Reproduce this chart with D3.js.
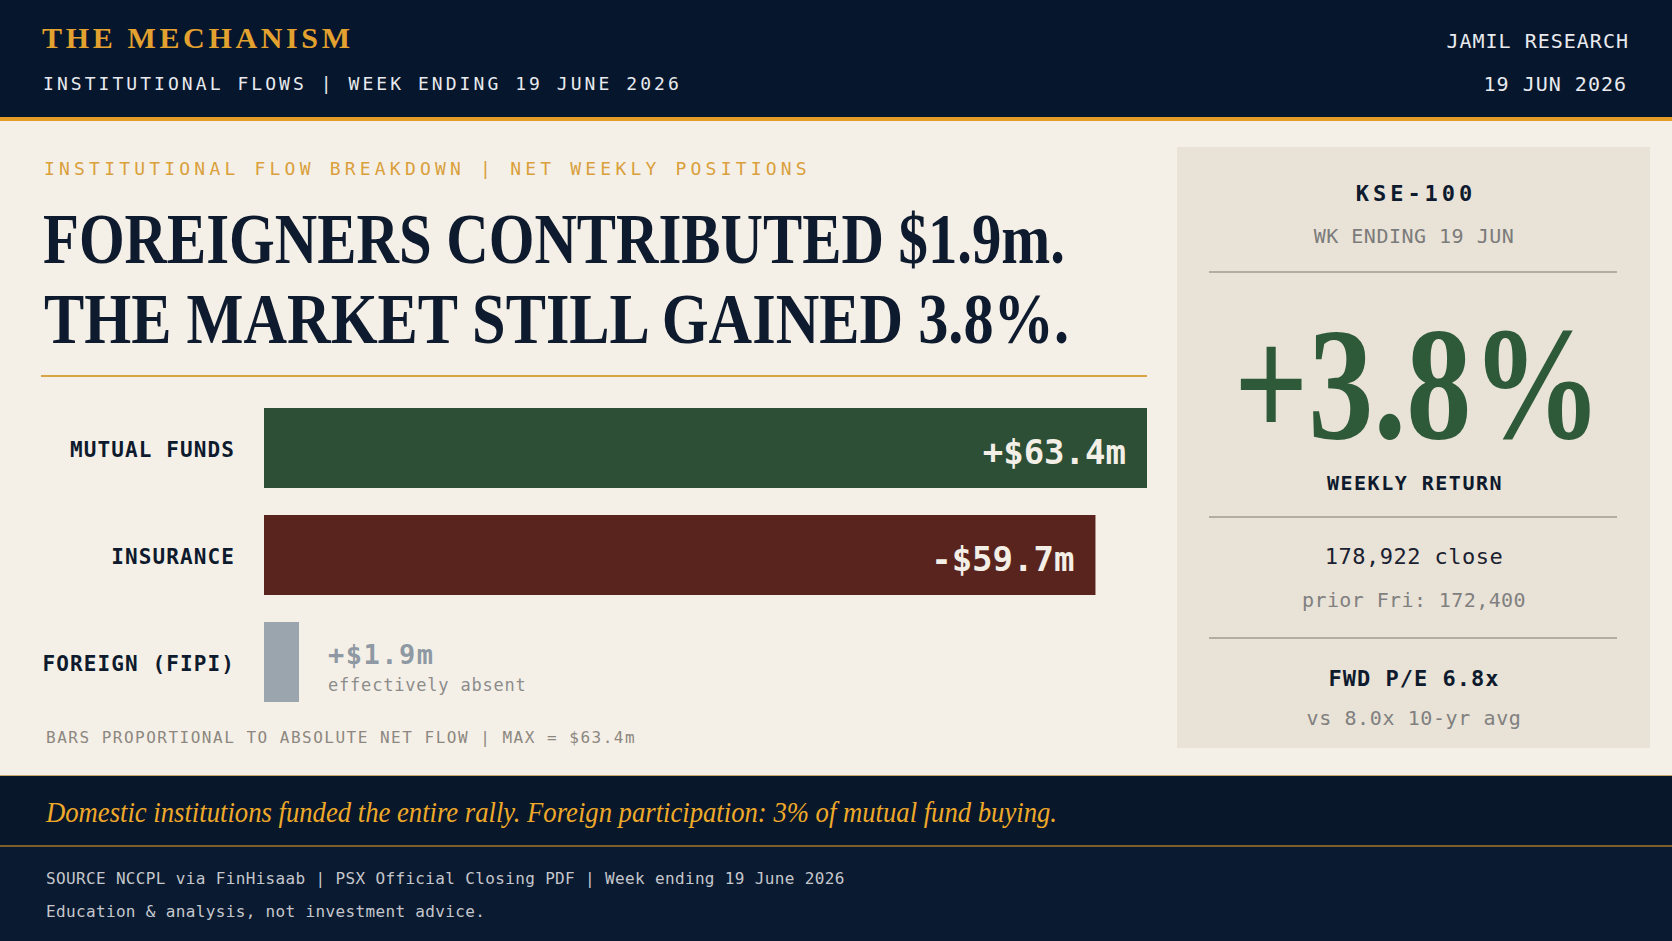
<!DOCTYPE html>
<html>
<head>
<meta charset="utf-8">
<script src="https://cdn.jsdelivr.net/npm/d3@7"></script>
<style>
html, body { margin: 0; padding: 0; background: #f5f0e7; overflow: hidden; }
svg { display: block; }
</style>
</head>
<body>
<script>
// flows, $m, week ending 19 June 2026
const categories = ['MUTUAL FUNDS', 'INSURANCE', 'FOREIGN (FIPI)'];
const netFlows = [63.4, -59.7, 1.9];
const flowNotes = ['', '', 'effectively absent'];

// KSE-100 side panel
const weeklyReturn = 3.8;
const kseClose = 178922;
const ksePriorClose = 172400;
const fwdPE = 6.8;
const avgPE = 8.0;

const width = 1672;
const height = 941;

const mono = '"DejaVu Sans Mono", monospace';
const serif = '"Liberation Serif", serif';
const navy = '#06162c';
const ink = '#0e1a2d';

const svg = d3.select('body')
    .append('svg')
    .attr('width', width)
    .attr('height', height);

function label(x, y, str, o) {
    const t = svg.append('text')
        .attr('x', x)
        .attr('y', y)
        .attr('font-family', o.family || mono)
        .attr('font-size', o.size)
        .attr('font-weight', o.weight || 'normal')
        .attr('font-style', o.style || 'normal')
        .attr('fill', o.fill)
        .attr('text-anchor', o.anchor || 'start')
        .style('letter-spacing', (o.spacing || 0) + 'px')
        .text(str);
    if (o.len) t.attr('textLength', o.len).attr('lengthAdjust', o.adjust || 'spacingAndGlyphs');
    return t;
}

// backgrounds
svg.append('rect').attr('width', width).attr('height', height).attr('fill', '#f5f0e7');
svg.append('rect').attr('width', width).attr('height', 117).attr('fill', navy);
svg.append('rect').attr('y', 117).attr('width', width).attr('height', 4).attr('fill', '#e39d26');

// header
label(42, 48, 'THE MECHANISM', { family: serif, size: 30, weight: 'bold', fill: '#e3a12f', len: 308, adjust: 'spacing' });
label(43, 90, 'INSTITUTIONAL FLOWS | WEEK ENDING 19 JUNE 2026', { size: 18, spacing: 3.05, fill: '#e8eaee' });
label(1629, 48, 'JAMIL RESEARCH', { size: 20, spacing: 1, fill: '#e8eaee', anchor: 'end' });
label(1627, 91, '19 JUN 2026', { size: 20, spacing: 1, fill: '#e8eaee', anchor: 'end' });

// kicker + headline
label(44, 175, 'INSTITUTIONAL FLOW BREAKDOWN | NET WEEKLY POSITIONS', { size: 18, spacing: 4.2, fill: '#d9a03c' });
const fipi = netFlows[categories.indexOf('FOREIGN (FIPI)')];
label(43, 263, `FOREIGNERS CONTRIBUTED $${fipi}m.`, { family: serif, size: 72, weight: 'bold', fill: ink, len: 1022 });
label(44, 343, `THE MARKET STILL GAINED ${weeklyReturn}%.`, { family: serif, size: 72, weight: 'bold', fill: ink, len: 1025 });
svg.append('line')
    .attr('x1', 41).attr('x2', 1147)
    .attr('y1', 376).attr('y2', 376)
    .attr('stroke', '#d9a443')
    .attr('stroke-width', 2);

// bars
const data = categories.map((c, i) => ({ category: c, value: netFlows[i], note: flowNotes[i] }));

const x = d3.scaleLinear()
    .domain([0, d3.max(data, d => Math.abs(d.value))])
    .range([264, 1147]);
const y = d3.scaleBand()
    .domain(categories)
    .range([408, 702])
    .paddingInner(0.2523)
    .paddingOuter(0);
const color = d3.scaleOrdinal()
    .domain(categories)
    .range(['#2d4f35', '#59241d', '#9ba5ae']);

const fmtFlow = v => (v >= 0 ? '+' : '-') + '$' + d3.format('.1f')(Math.abs(v)) + 'm';
const minBar = 35;
const barEnd = d => x(0) + Math.max(x(Math.abs(d.value)) - x(0), minBar);
const big = d => x(Math.abs(d.value)) - x(0) > 200;

const rows = svg.selectAll('g.row')
    .data(data)
    .enter()
    .append('g')
    .attr('class', 'row');

rows.append('rect')
    .attr('x', x(0))
    .attr('y', d => y(d.category))
    .attr('width', d => barEnd(d) - x(0))
    .attr('height', y.bandwidth())
    .attr('fill', d => color(d.category));

rows.append('text')
    .attr('x', 235)
    .attr('y', d => y(d.category) + y.bandwidth() / 2 + 9)
    .attr('text-anchor', 'end')
    .attr('font-family', mono)
    .attr('font-size', 21)
    .attr('font-weight', 'bold')
    .attr('fill', ink)
    .style('letter-spacing', '1.1px')
    .text(d => d.category);

rows.filter(big).append('text')
    .attr('x', d => barEnd(d) - 21)
    .attr('y', d => y(d.category) + y.bandwidth() / 2 + 16)
    .attr('text-anchor', 'end')
    .attr('font-family', mono)
    .attr('font-size', 34)
    .attr('font-weight', 'bold')
    .attr('fill', '#f3efe7')
    .text(d => fmtFlow(d.value));

const small = rows.filter(d => !big(d));
small.append('text')
    .attr('x', d => barEnd(d) + 29)
    .attr('y', d => y(d.category) + y.bandwidth() / 2 + 2)
    .attr('font-family', mono)
    .attr('font-size', 27)
    .attr('font-weight', 'bold')
    .attr('fill', '#8f99a3')
    .style('letter-spacing', '1.5px')
    .text(d => fmtFlow(d.value));
small.append('text')
    .attr('x', d => barEnd(d) + 29)
    .attr('y', d => y(d.category) + y.bandwidth() / 2 + 29)
    .attr('font-family', mono)
    .attr('font-size', 17)
    .attr('fill', '#8c8c8c')
    .style('letter-spacing', '0.8px')
    .text(d => d.note);

label(46, 743, `BARS PROPORTIONAL TO ABSOLUTE NET FLOW | MAX = ${fmtFlow(x.domain()[1]).slice(1)}`,
    { size: 16, spacing: 1.5, fill: '#8c8780' });

// KSE-100 panel
svg.append('rect')
    .attr('x', 1177).attr('y', 147)
    .attr('width', 473).attr('height', 601)
    .attr('fill', '#e9e2d6');
const cx = 1414;
[272, 517, 638].forEach(ly => {
    svg.append('line')
        .attr('x1', 1209).attr('x2', 1617)
        .attr('y1', ly).attr('y2', ly)
        .attr('stroke', '#a09a90')
        .attr('stroke-width', 1.5);
});
label(cx + 2, 201, 'KSE-100', { size: 22, weight: 'bold', spacing: 4, fill: ink, anchor: 'middle' });
label(cx, 243, 'WK ENDING 19 JUN', { size: 20, spacing: 0.5, fill: '#7b7b7b', anchor: 'middle' });

// big return figure, squeezed horizontally to the reference width
const ret = svg.append('text')
    .attr('font-family', serif)
    .attr('font-size', 162)
    .attr('font-weight', 'bold')
    .attr('fill', '#2e5a39')
    .attr('text-anchor', 'middle')
    .text('+' + d3.format('.1f')(weeklyReturn) + '%');
const retW = ret.node().getComputedTextLength();
ret.attr('transform', `translate(1418, 438) scale(${368 / retW}, 1)`);

label(cx + 1, 490, 'WEEKLY RETURN', { size: 20, weight: 'bold', spacing: 1.5, fill: ink, anchor: 'middle' });
label(cx, 564, d3.format(',')(kseClose) + ' close', { size: 22, spacing: 0.5, fill: '#1a2131', anchor: 'middle' });
label(cx, 607, 'prior Fri: ' + d3.format(',')(ksePriorClose), { size: 20, spacing: 0.4, fill: '#808080', anchor: 'middle' });
label(cx, 686, 'FWD P/E ' + d3.format('.1f')(fwdPE) + 'x', { size: 22, weight: 'bold', spacing: 1, fill: ink, anchor: 'middle' });
label(cx, 725, 'vs ' + d3.format('.1f')(avgPE) + 'x 10-yr avg', { size: 20, spacing: 0.6, fill: '#808080', anchor: 'middle' });

// footer
svg.append('rect').attr('y', 775).attr('width', width).attr('height', height - 775).attr('fill', '#081729');
svg.append('rect').attr('y', 775).attr('width', width).attr('height', 1).attr('fill', '#c9a86a');
svg.append('rect').attr('y', 845).attr('width', width).attr('height', 2).attr('fill', '#7d5f2a');
svg.append('rect').attr('y', 847).attr('width', width).attr('height', height - 847).attr('fill', '#0a1a31');
const share = Math.round(fipi / netFlows[0] * 100);
label(46, 822, `Domestic institutions funded the entire rally. Foreign participation: ${share}% of mutual fund buying.`,
    { family: serif, size: 30, style: 'italic', fill: '#efa92a', len: 1011 });
label(46, 884, 'SOURCE NCCPL via FinHisaab | PSX Official Closing PDF | Week ending 19 June 2026', { size: 16, spacing: 0.35, fill: '#c5c7cc' });
label(46, 917, 'Education & analysis, not investment advice.', { size: 16, spacing: 0.35, fill: '#c5c7cc' });
</script>
</body>
</html>
